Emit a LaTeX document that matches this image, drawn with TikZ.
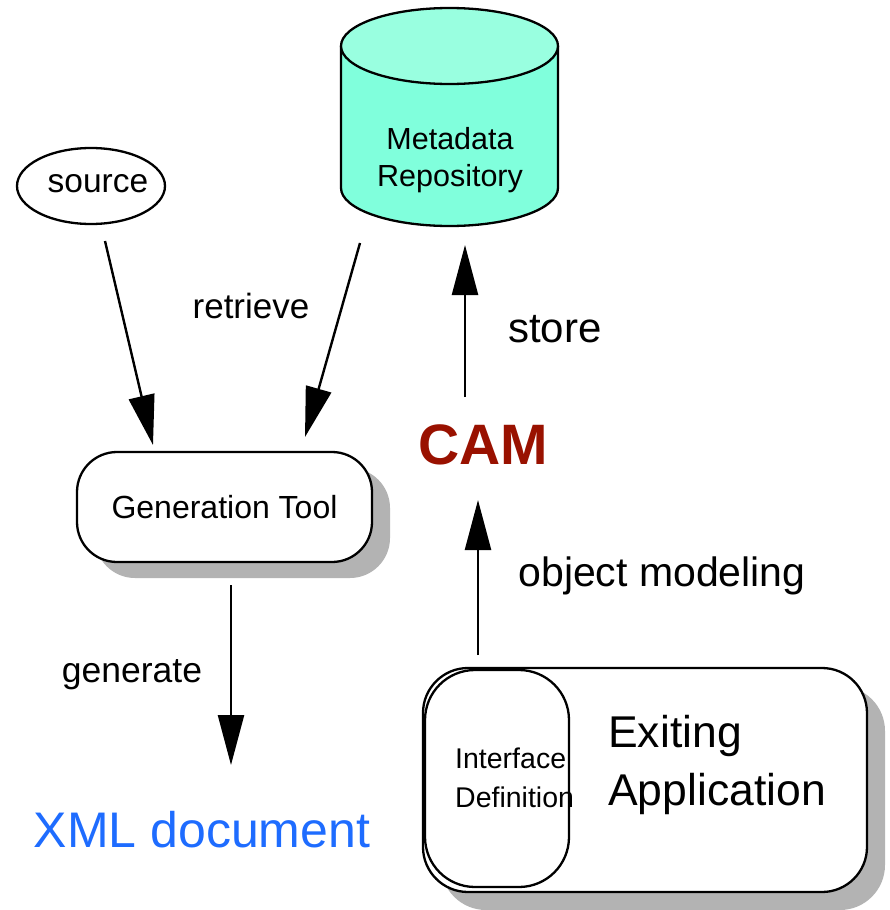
\documentclass[tikz,border=0pt]{standalone}
\usepackage{fontspec}
\setmainfont{Liberation Sans}
\usetikzlibrary{arrows.meta}
\definecolor{camred}{RGB}{153,17,0}
\definecolor{xmlblue}{RGB}{30,108,255}
\definecolor{cylbody}{RGB}{128,255,220}
\definecolor{cyltop}{RGB}{153,255,224}
\definecolor{shadowgray}{RGB}{179,179,179}
\newcommand{\fs}[1]{\fontsize{#1}{#1}\selectfont}
\tikzset{
  arr/.style={line width=2.4pt, -{Triangle[length=50pt,width=26pt]}},
  outline/.style={line width=2.3pt, draw=black},
  lbl/.style={inner sep=0pt, text=black},
}
\begin{document}
\begin{tikzpicture}[x=1pt,y=-1pt]
\useasboundingbox (0,0) rectangle (890,910);
\fill[white] (0,0) rectangle (890,910);

% cylinder
\fill[cylbody] (341,46) -- (341,188) arc[start angle=180,end angle=360,x radius=108.5,y radius=-38] -- (558,46) -- cycle;
\draw[outline] (341,46) -- (341,188) arc[start angle=180,end angle=360,x radius=108.5,y radius=-38] -- (558,46);
\draw[outline, fill=cyltop] (449.5,46) ellipse[x radius=108.5, y radius=38];
\node[lbl, align=center, font=\fs{30.5}] (repo) at (450,160) {Metadata\\[7pt]Repository};

% source ellipse
\draw[outline] (91,186) ellipse[x radius=74, y radius=38];
\node[lbl, font=\fs{33.5}] (source) at (98,184) {source};

% generation tool
\fill[shadowgray, rounded corners=40pt] (95,468) rectangle (390,578);
\node[outline, fill=white, rounded corners=40pt, minimum width=295pt, minimum height=110pt, inner sep=0pt, font=\fs{32}] (gen) at (224.5,507) {Generation Tool};

% existing application
\fill[shadowgray, rounded corners=45pt] (441,686) rectangle (885,910);
\node[outline, fill=white, rounded corners=45pt, minimum width=444pt, minimum height=224pt, inner sep=0pt] (app) at (645,780) {};
\node[outline, fill=white, rounded corners=50pt, minimum width=144pt, minimum height=217pt, inner sep=0pt] (iface) at (497,778.5) {};
\node[lbl, anchor=west, align=left, font=\fs{28.5}] (ifacetext) at (455,778) {Interface\\[10pt]Definition};
\node[lbl, anchor=west, align=left, font=\fs{44.5}] (apptext) at (608,765) {Exiting\\[14pt]Application};

% free texts
\node[lbl, font=\fs{57}\bfseries, text=camred] (cam) at (483,445) {CAM};
\node[lbl, font=\fs{50}, text=xmlblue] (xml) at (202,830) {XML document};
\node[lbl, font=\fs{35}] (retrieve) at (251,306) {retrieve};
\node[lbl, font=\fs{42}] (store) at (555,329) {store};
\node[lbl, font=\fs{41}] (objmod) at (662,576) {object modeling};
\node[lbl, font=\fs{35.5}] (generate) at (132,675) {generate};

% connector end points
\coordinate (s1) at (105,241);
\coordinate (s2) at (153,445);
\coordinate (r1) at (360,243);
\coordinate (r2) at (305,437);
\coordinate (st1) at (465,397);
\coordinate (st2) at (465,245);
\coordinate (o1) at (478,655);
\coordinate (o2) at (478,500);
\coordinate (g1) at (231,585);
\coordinate (g2) at (231,765);

\draw[arr] (s1) -- (s2);
\draw[arr] (r1) -- (r2);
\draw[arr] (st1) -- (st2);
\draw[arr] (o1) -- (o2);
\draw[arr] (g1) -- (g2);
\end{tikzpicture}
\end{document}
